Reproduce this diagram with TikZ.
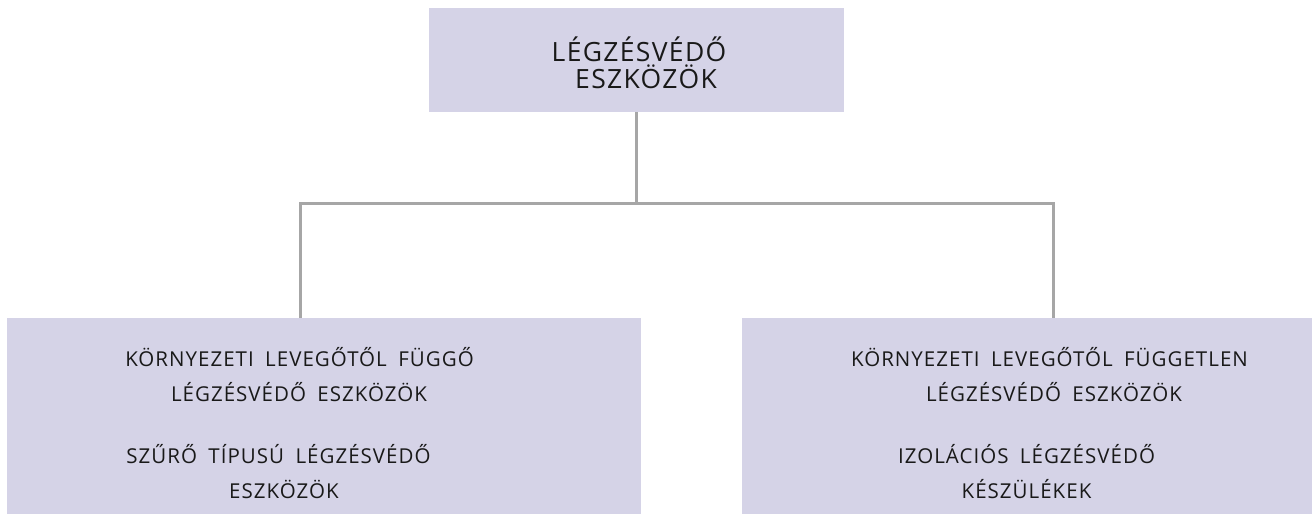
\documentclass[tikz,border=0pt]{standalone}
\usepackage{fontspec}
\setmainfont{Open Sans}[LetterSpace=5, WordSpace=1.8]
\usepackage{xcolor}
\usetikzlibrary{positioning}
\definecolor{boxfill}{RGB}{213,211,231}
\definecolor{linegray}{RGB}{166,166,166}
\tikzset{
  box/.style={fill=boxfill, draw=none, inner sep=0pt},
  boxtext/.style={anchor=base, inner sep=0pt, text=black!90, font=\fontsize{20.5}{24}\selectfont},
  toptext/.style={boxtext, font=\fontsize{26.5}{24}\selectfont},
  conn/.style={linegray, line width=3pt},
}
\begin{document}
\begin{tikzpicture}[x=1pt, y=-1pt]
        \useasboundingbox (0, 0) rectangle (1315, 514);
        \node[box, minimum width=415pt, minimum height=104pt] (top) at (636.5, 60) {};
        \node[box, minimum width=634pt, minimum height=196pt] (left) at (324, 416) {};
        \node[box, minimum width=570pt, minimum height=196pt] (right) at (1027, 416) {};
        \coordinate (jl) at (300, 203.5);
        \coordinate (jr) at (1053.5, 203.5);
        \draw[conn] (top.south) -- (top.south |- jl);
        \draw[conn] (jl |- left.north) -- (jl) -- (jr) -- (jr |- right.north);
	\node[toptext] (topa) at (639, 61) {LÉGZÉSVÉDŐ};
	\node[toptext] (topb) at (646, 88) {ESZKÖZÖK};
	\node[boxtext] (lefta) at (299.5, 366) {KÖRNYEZETI LEVEGŐTŐL FÜGGŐ};
	\node[boxtext] (leftb) at (299, 401) {LÉGZÉSVÉDŐ ESZKÖZÖK};
	\node[boxtext] (leftc) at (278.5, 463) {SZŰRŐ TÍPUSÚ LÉGZÉSVÉDŐ};
	\node[boxtext] (leftd) at (284, 498) {ESZKÖZÖK};
	\node[boxtext] (righta) at (1049.5, 366) {KÖRNYEZETI LEVEGŐTŐL FÜGGETLEN};
	\node[boxtext] (rightb) at (1054, 401) {LÉGZÉSVÉDŐ ESZKÖZÖK};
	\node[boxtext] (rightc) at (1026.5, 463) {IZOLÁCIÓS LÉGZÉSVÉDŐ};
	\node[boxtext] (rightd) at (1026.5, 498) {KÉSZÜLÉKEK};
\end{tikzpicture}
\end{document}
